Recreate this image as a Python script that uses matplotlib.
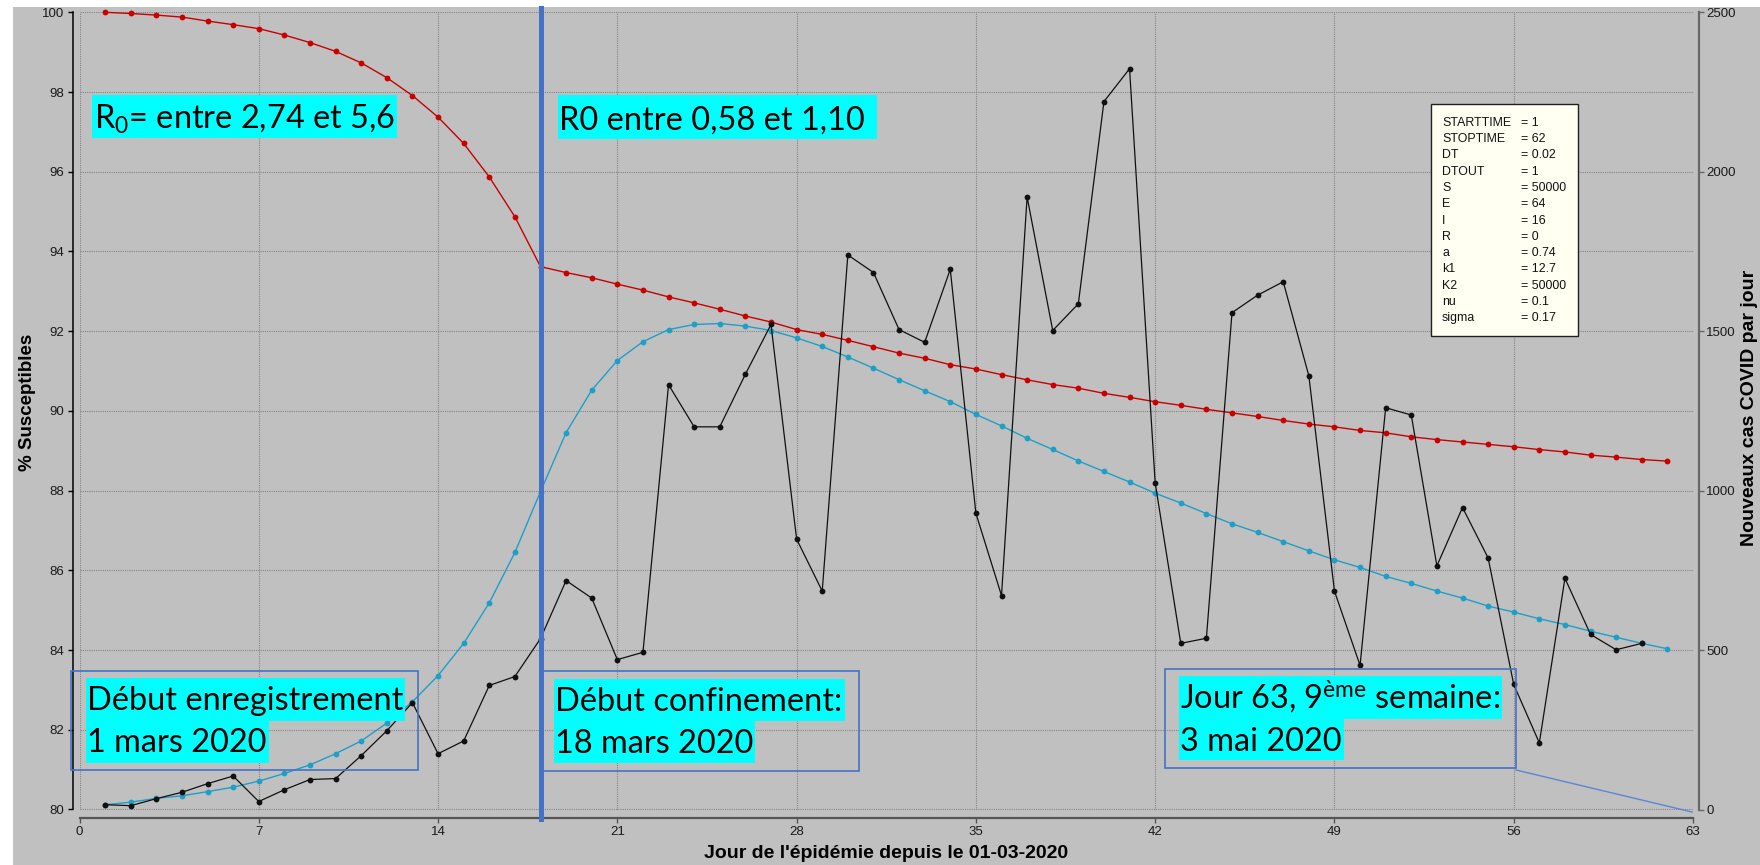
import numpy as np
import matplotlib
matplotlib.use("Agg")
import matplotlib.pyplot as plt
from matplotlib.patches import Rectangle
from matplotlib.lines import Line2D

# ---------------- data ----------------
days_s = list(range(1, 63))
susceptibles = [100.0, 99.97, 99.93, 99.88, 99.78, 99.69, 99.59, 99.43, 99.24, 99.02,
                98.73, 98.36, 97.91, 97.37, 96.71, 95.87, 94.87, 93.62, 93.47, 93.34,
                93.18, 93.03, 92.86, 92.71, 92.55, 92.38, 92.23, 92.04, 91.92, 91.77,
                91.61, 91.45, 91.32, 91.16, 91.05, 90.91, 90.78, 90.66, 90.57, 90.44,
                90.34, 90.23, 90.14, 90.04, 89.95, 89.86, 89.76, 89.67, 89.60, 89.51,
                89.45, 89.35, 89.28, 89.22, 89.16, 89.10, 89.03, 88.97, 88.89, 88.84,
                88.78, 88.74]

days_model = list(range(1, 63))
model_cases = [15, 23, 35, 43, 56, 70, 89, 113, 140, 175,
               215, 271, 338, 420, 521, 648, 806, 997, 1182, 1315,
               1408, 1467, 1505, 1521, 1524, 1516, 1502, 1479, 1452, 1419,
               1384, 1348, 1313, 1279, 1239, 1203, 1164, 1129, 1093, 1060,
               1027, 992, 961, 928, 896, 869, 840, 811, 783, 759,
               731, 709, 685, 663, 638, 619, 598, 580, 559, 540,
               521, 504]

days_obs = list(range(1, 62))
observed_cases = [15, 12, 34, 54, 81, 105, 25, 62, 94, 97,
                  169, 247, 335, 175, 215, 389, 417, 536, 718, 663,
                  470, 493, 1332, 1200, 1200, 1365, 1521, 848, 685, 1739,
                  1684, 1505, 1465, 1694, 929, 671, 1921, 1502, 1586, 2220,
                  2323, 1024, 521, 537, 1558, 1613, 1655, 1360, 685, 452,
                  1260, 1237, 764, 947, 789, 392, 209, 725, 549, 501,
                  521]

x_ticks = list(range(0, 64, 7))
left_ticks = list(range(80, 101, 2))
right_ticks = list(range(0, 2501, 500))
confinement_day = 18

param_names = ["STARTTIME", "STOPTIME", "DT", "DTOUT", "S", "E", "I", "R",
               "a", "k1", "K2", "nu", "sigma"]
param_values = ["1", "62", "0.02", "1", "50000", "64", "16", "0",
                "0.74", "12.7", "50000", "0.1", "0.17"]

# ---------------- style ----------------
W, H = 1760, 865
plt.rcParams['font.family'] = ['Liberation Sans', 'DejaVu Sans']
plt.rcParams['mathtext.fontset'] = 'custom'
plt.rcParams['mathtext.rm'] = 'Lato'
plt.rcParams['mathtext.it'] = 'Lato:italic'
plt.rcParams['mathtext.bf'] = 'Lato:bold'

RED = '#c80000'
CYAN = '#1e9fc8'
BLUE = '#4472c4'
GREY_BG = '#c0c0c0'
HL = '#00ffff'

fig = plt.figure(figsize=(W / 100, H / 100), dpi=100, facecolor='white')


def fx(x):
    return x / W


def fy(y):
    return 1 - y / H


def frect(x0, y0, x1, y1, **kw):
    r = Rectangle((fx(x0), fy(y1)), (x1 - x0) / W, (y1 - y0) / H,
                  transform=fig.transFigure, **kw)
    fig.patches.append(r)
    return r


# background grey area
frect(13, 7, W + 5, H + 5, fc=GREY_BG, ec='none', zorder=-5)

ax = fig.add_axes([79.5 / W, 1 - 809.5 / H, 1613.5 / W, 797.2 / H])
ax.set_facecolor('none')
ax.set_xlim(0, 63)
ax.set_ylim(80, 100)
ax2 = ax.twinx()
ax2.set_ylim(0, 2500)
ax2.set_facecolor('none')

# grid
for xv in x_ticks:
    ax.axvline(xv, color='#858585', lw=0.8, ls=(0, (1, 1)), zorder=0.5)
for yv in left_ticks:
    ax.axhline(yv, color='#858585', lw=0.8, ls=(0, (1, 1)), zorder=0.5)

# series
ax.plot(days_s, susceptibles, color=RED, lw=1.0, marker='o', ms=4.2,
        markeredgewidth=0, zorder=3, clip_on=False)
ax2.plot(days_model, model_cases, color=CYAN, lw=1.0, marker='o', ms=4.2,
         markeredgewidth=0, zorder=3, clip_on=False)
ax2.plot(days_obs, observed_cases, color='#101010', lw=0.9, marker='o', ms=4.2,
         markeredgewidth=0, zorder=4, clip_on=False)

ax2.axvline(confinement_day, ymin=-0.012, ymax=1.0055, color=BLUE, lw=3.6,
            zorder=6, clip_on=False)

# spines
for a in (ax, ax2):
    a.spines['top'].set_visible(False)
ax.spines['right'].set_visible(False)
ax2.spines['left'].set_visible(False)
ax2.spines['bottom'].set_visible(False)

ax.spines['left'].set_position(('outward', 5.0))
ax.spines['left'].set_bounds(80, 100)
ax.spines['left'].set_color('#000000')
ax.spines['left'].set_linewidth(1.1)
ax.spines['bottom'].set_position(('outward', 6.0))
ax.spines['bottom'].set_bounds(0, 63)
ax.spines['bottom'].set_color('#555555')
ax.spines['bottom'].set_linewidth(1.6)
ax2.spines['right'].set_position(('outward', 4.0))
ax2.spines['right'].set_bounds(0, 2500)
ax2.spines['right'].set_color('#666666')
ax2.spines['right'].set_linewidth(1.6)

ax.set_xticks(x_ticks)
ax.set_yticks(left_ticks)
ax2.set_yticks(right_ticks)
ax.tick_params(axis='y', direction='out', length=3.6, width=1.0, color='#000000',
               labelsize=9.5, labelcolor='#1a1a1a', pad=2.5)
ax.tick_params(axis='x', direction='out', length=3.6, width=1.0, color='#555555',
               labelsize=9.5, labelcolor='#1a1a1a', pad=2.5)
ax2.tick_params(axis='y', direction='out', length=3.6, width=1.0, color='#666666',
                labelsize=9.5, labelcolor='#1a1a1a', pad=2.0)

# axis labels
fig.text(fx(27), fy(402), '% Susceptibles', rotation=90, ha='center', va='center',
         fontsize=13.5, fontweight='bold', color='#000000')
fig.text(fx(1749), fy(408), 'Nouveaux cas COVID par jour', rotation=90,
         ha='center', va='center', fontsize=14, fontweight='bold', color='#000000')
fig.text(fx(886), fy(853), "Jour de l'épidémie depuis le 01-03-2020", ha='center',
         va='center', fontsize=14, fontweight='bold', color='#000000')

# highlighted annotations
hl_items = []


def hl(x0, y0, x1, y1, tx, base, s):
    r = frect(x0, y0, x1, y1, fc=HL, ec='none', zorder=3)
    t = fig.text(fx(tx), fy(base), s, ha='left', va='baseline', fontsize=24,
                 family=['Lato', 'DejaVu Sans'], color='black', zorder=4)
    hl_items.append((r, t, x0, x1))
    return t


hl(92, 95, 389, 138, 94, 129, r'R$_{\mathrm{0}}$= entre 2,74 et 5,6')
hl(558, 95, 877, 139, 559, 130, 'R0 entre 0,58 et 1,10')
probe = hl(86, 678, 403, 721, 87, 710, 'Début enregistrement')
hl(86, 721, 261, 763, 87, 752, '1 mars 2020')
hl(554, 679, 845, 721, 555, 711, 'Début confinement:')
hl(554, 721, 747, 763, 555, 753, '18 mars 2020')
hl(1179, 676, 1499, 719, 1180, 709, r'Jour 63, 9$^{\mathrm{ème}}$ semaine:')
hl(1179, 719, 1338, 760, 1180, 751, '3 mai 2020')

# outlined boxes
frect(71, 671, 418, 770, fc='none', ec=BLUE, lw=1.2, zorder=3.5)
frect(543, 671, 859, 771, fc='none', ec=BLUE, lw=1.2, zorder=3.5)
frect(1165, 669, 1516, 768, fc='none', ec=BLUE, lw=1.2, zorder=3.5)
fig.lines.append(Line2D([fx(1516), fx(1692)], [fy(770), fy(812)],
                        transform=fig.transFigure, color='#5f84d6', lw=1.0, zorder=3.5))

# parameter box
frect(1431, 104, 1578, 336, fc='#fffff2', ec='#202020', lw=1.0, zorder=3)
for i, (n, v) in enumerate(zip(param_names, param_values)):
    yb = 125.7 + i * 16.3
    fig.text(fx(1442), fy(yb), n, ha='left', va='baseline', fontsize=8.9,
             color='#111111', zorder=4)
    fig.text(fx(1521), fy(yb), '= ' + v, ha='left', va='baseline', fontsize=8.9,
             color='#111111', zorder=4)

# fit the annotation font size so that the reference line widths match
fig.canvas.draw()
rend = fig.canvas.get_renderer()
w = probe.get_window_extent(renderer=rend).width
size = 24 * 315.0 / w
for r, t, x0, x1 in hl_items:
    t.set_fontsize(size)
fig.canvas.draw()
for r, t, x0, x1 in hl_items:
    bb = t.get_window_extent(renderer=rend)
    right = max(x1, bb.x1 + 2)
    r.set_width((right - x0) / W)

fig.savefig('out.png', dpi=100, facecolor=fig.get_facecolor())
